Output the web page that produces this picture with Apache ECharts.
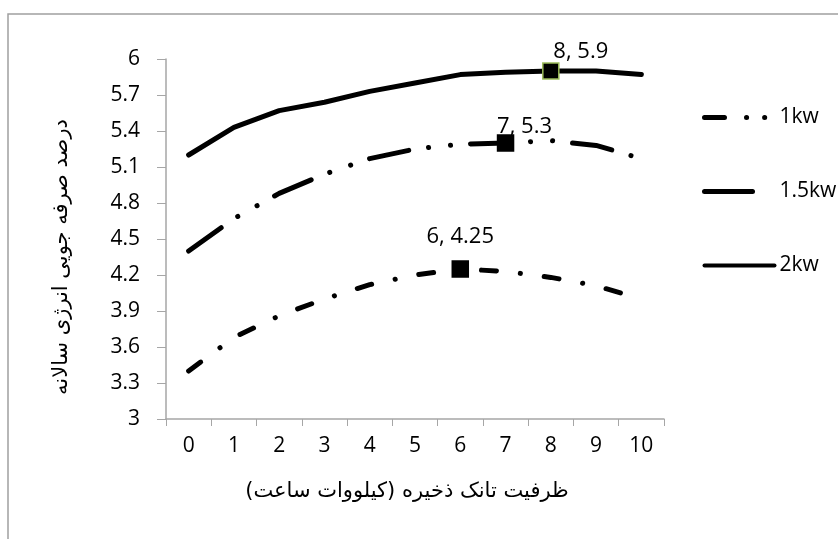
<!DOCTYPE html>
<html>
<head>
<meta charset="utf-8">
<script src="https://cdn.jsdelivr.net/npm/echarts@6/dist/echarts.min.js"></script>
<style>
html,body{margin:0;padding:0;background:#fff;}
#c{width:838px;height:539px;}
</style>
</head>
<body>
<div id="c"></div>
<script>
const categories = ['0','1','2','3','4','5','6','7','8','9','10'];
const s1kw  = [3.4, 3.68, 3.86, 4.0, 4.12, 4.2, 4.25, 4.23, 4.18, 4.11, 4.0];
const s15kw = [4.4, 4.67, 4.88, 5.04, 5.17, 5.25, 5.29, 5.3, 5.32, 5.28, 5.17];
const s2kw  = [5.2, 5.43, 5.57, 5.64, 5.73, 5.8, 5.87, 5.89, 5.9, 5.9, 5.87];
const seriesNames = ['1kw', '1.5kw', '2kw'];
const yTicks = { min: 3, max: 6, interval: 0.3 };
const xTitle = 'ظرفیت تانک ذخیره (کیلووات ساعت)';
const yTitle = 'درصد صرفه جویی انرژی سالانه';
// highlighted points: [seriesIndex, categoryIndex, label]
const highlights = [[0, 6, '6, 4.25'], [1, 7, '7, 5.3'], [2, 8, '8, 5.9']];

const labelOffsets = { 0: [0, -8], 1: [19, 8], 2: [30, 5] };
const markerBorder = { 0: '#000', 1: '#000', 2: '#9bbb59' };

function buildData(si, arr) {
  return arr.map((v, i) => {
    const h = highlights.find(x => x[0] === si && x[1] === i);
    if (!h) return v;
    return {
      value: v,
      symbol: 'rect',
      symbolSize: 16,
      itemStyle: { color: '#000', borderColor: markerBorder[si], borderWidth: 1.5 },
      label: {
        show: true, position: 'top', formatter: h[2], offset: labelOffsets[si],
        fontSize: 22, color: '#000', fontFamily: 'Open Sans'
      }
    };
  });
}

const chart = echarts.init(document.getElementById('c'), null, { renderer: 'canvas' });
const axisGray = '#a6a6a6';
const hidden = { opacity: 0, color: 'transparent', borderWidth: 0 };
chart.setOption({
  backgroundColor: '#fff',
  animation: false,
  graphic: [{
    type: 'rect', shape: { x: 8, y: 14, width: 840, height: 540 },
    style: { fill: 'none', stroke: '#a0a0a0', lineWidth: 1.5 }, silent: true, z: -10
  }],
  grid: { left: 166, right: 174, top: 59, bottom: 120 },
  legend: {
    orient: 'vertical', left: 697, top: 102,
    itemWidth: 70, itemHeight: 20, itemGap: 53,
    textStyle: { fontSize: 21, color: '#000', fontFamily: 'Open Sans' },
    itemStyle: hidden,
    data: [
      { name: seriesNames[0], itemStyle: hidden, lineStyle: { type: [20, 22, 0.1, 18, 0.1, 10], cap: 'round', width: 5 } },
      { name: seriesNames[1], itemStyle: hidden, lineStyle: { type: [48, 30], cap: 'round', width: 5 } },
      { name: seriesNames[2], itemStyle: hidden, lineStyle: { type: 'solid', cap: 'round', width: 4 } }
    ]
  },
  xAxis: {
    type: 'category', data: categories, boundaryGap: true,
    name: xTitle, nameLocation: 'middle', nameGap: 62,
    nameTextStyle: { fontSize: 21, color: '#000', fontFamily: 'DejaVu Sans', padding: [0, 16, 0, 0] },
    axisLine: { lineStyle: { color: axisGray, width: 1.5 } },
    axisTick: { show: true, length: 7, alignWithLabel: false, lineStyle: { color: axisGray } },
    axisLabel: { fontSize: 21, color: '#000', margin: 17, fontFamily: 'Open Sans' },
    splitLine: { show: false }
  },
  yAxis: {
    type: 'value', min: yTicks.min, max: yTicks.max, interval: yTicks.interval,
    name: yTitle, nameLocation: 'middle', nameGap: 94, nameRotate: 90,
    nameTextStyle: { fontSize: 21, color: '#000', fontFamily: 'DejaVu Sans', padding: [0, 36, 0, 0] },
    axisLine: { show: true, lineStyle: { color: axisGray, width: 1.5 } },
    axisTick: { show: true, length: 9, lineStyle: { color: axisGray } },
    axisLabel: {
      fontSize: 21, color: '#000', margin: 26, fontFamily: 'Open Sans',
      formatter: v => String(+v.toFixed(1))
    },
    splitLine: { show: false }
  },
  series: [
    {
      name: seriesNames[0], type: 'line', data: buildData(0, s1kw),
      symbol: 'none', showSymbol: true, smooth: false,
      lineStyle: { color: '#000', width: 5, cap: 'round', type: [15, 24, 0.1, 24] },
      itemStyle: { color: '#000' }
    },
    {
      name: seriesNames[1], type: 'line', data: buildData(1, s15kw),
      symbol: 'none', showSymbol: true,
      lineStyle: { color: '#000', width: 5, cap: 'round', type: [40, 20, 0.1, 22, 0.1, 20] },
      itemStyle: { color: '#000' }
    },
    {
      name: seriesNames[2], type: 'line', data: buildData(2, s2kw),
      symbol: 'none', showSymbol: true,
      lineStyle: { color: '#000', width: 5, cap: 'round', type: 'solid' },
      itemStyle: { color: '#000' }
    }
  ]
});
</script>
</body>
</html>
